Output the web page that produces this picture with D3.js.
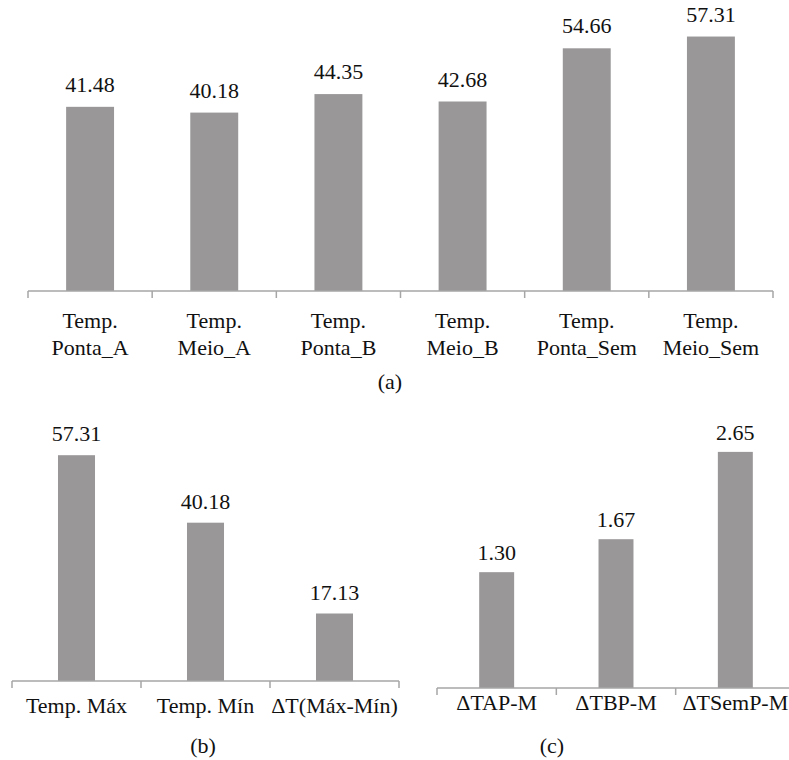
<!DOCTYPE html>
<html>
<head>
<meta charset="utf-8">
<script src="https://cdn.jsdelivr.net/npm/d3@7"></script>
</head>
<body style="margin:0;background:#fff">
<svg id="chart" width="789" height="760" style="display:block"></svg>
<script>
// Panel (a): temperatures per position
const catsA = [["Temp.", "Ponta_A"], ["Temp.", "Meio_A"], ["Temp.", "Ponta_B"],
               ["Temp.", "Meio_B"], ["Temp.", "Ponta_Sem"], ["Temp.", "Meio_Sem"]];
const valsA = [41.48, 40.18, 44.35, 42.68, 54.66, 57.31];

// Panel (b): max, min and their difference
const catsB = [["Temp. Máx"], ["Temp. Mín"], ["ΔT(Máx-Mín)"]];
const valsB = [57.31, 40.18, 17.13];

// Panel (c): differences between tip and middle
const catsC = [["ΔTAP-M"], ["ΔTBP-M"], ["ΔTSemP-M"]];
const valsC = [1.30, 1.67, 2.65];

const captions = ["(a)", "(b)", "(c)"];

const svg = d3.select("#chart");
const fontFamily = "Times New Roman";
const barColor = "#999798";
const axisColor = "#a6a6a6";
const textColor = "#111111";

function panel(cfg) {
  const g = svg.append("g");
  const x = d3.scaleBand()
    .domain(cfg.cats.map((_, i) => i))
    .range([cfg.x0, cfg.x1])
    .paddingInner(cfg.pad)
    .paddingOuter(cfg.pad / 2);
  const y = d3.scaleLinear().domain([0, cfg.yMax]).range([cfg.base, cfg.top]);
  const step = x.step();

  // bars
  g.selectAll("rect.bar").data(cfg.vals).join("rect")
    .attr("class", "bar")
    .attr("x", (d, i) => x(i))
    .attr("width", x.bandwidth())
    .attr("y", d => y(d))
    .attr("height", d => y(0) - y(d))
    .attr("fill", barColor);

  // value labels
  g.selectAll("text.val").data(cfg.vals).join("text")
    .attr("class", "val")
    .attr("x", (d, i) => x(i) + x.bandwidth() / 2)
    .attr("y", d => y(d) - cfg.labelGap)
    .attr("text-anchor", "middle")
    .style("font-family", fontFamily)
    .style("font-size", cfg.valSize + "px")
    .attr("fill", textColor)
    .text(d => d.toFixed(2));

  // category axis with boundary ticks
  g.append("line")
    .attr("x1", cfg.x0).attr("x2", cfg.x1)
    .attr("y1", y(0)).attr("y2", y(0))
    .attr("stroke", axisColor).attr("stroke-width", 1.5);
  const tickXs = d3.range(cfg.cats.length + 1).map(i => cfg.x0 + i * step);
  g.selectAll("line.tick").data(tickXs).join("line")
    .attr("class", "tick")
    .attr("x1", d => d).attr("x2", d => d)
    .attr("y1", y(0)).attr("y2", y(0) + 7)
    .attr("stroke", axisColor).attr("stroke-width", 1.5);

  // category labels, one tspan per line
  const lab = g.selectAll("text.cat").data(cfg.cats).join("text")
    .attr("class", "cat")
    .attr("text-anchor", "middle")
    .style("font-family", fontFamily)
    .style("font-size", cfg.catSize + "px")
    .attr("fill", textColor)
    .attr("transform", (d, i) => `translate(${x(i) + x.bandwidth() / 2},${y(0) + cfg.catOffset})`);
  lab.selectAll("tspan").data(d => d).join("tspan")
    .attr("x", 0)
    .attr("y", (d, j) => j * cfg.lineH)
    .text(d => d);

  // panel caption
  svg.append("text")
    .attr("x", cfg.capX).attr("y", cfg.capY)
    .attr("text-anchor", "middle")
    .style("font-family", fontFamily)
    .style("font-size", "22px")
    .attr("fill", textColor)
    .text(cfg.caption);
}

panel({ cats: catsA, vals: valsA, x0: 28, x1: 773, pad: 0.614,
        base: 291, top: 24.6, yMax: 60, labelGap: 15, valSize: 22,
        catSize: 22, catOffset: 37, lineH: 27, caption: captions[0], capX: 390, capY: 389 });

panel({ cats: catsB, vals: valsB, x0: 12, x1: 399, pad: 0.713,
        base: 681, top: 444.6, yMax: 60, labelGap: 14, valSize: 22,
        catSize: 22, catOffset: 32, lineH: 27, caption: captions[1], capX: 203, capY: 753 });

panel({ cats: catsC, vals: valsC, x0: 437, x1: 795, pad: 0.707,
        base: 688, top: 420.7, yMax: 3, labelGap: 12, valSize: 22,
        catSize: 22, catOffset: 22, lineH: 27, caption: captions[2], capX: 552, capY: 753 });
</script>
</body>
</html>
